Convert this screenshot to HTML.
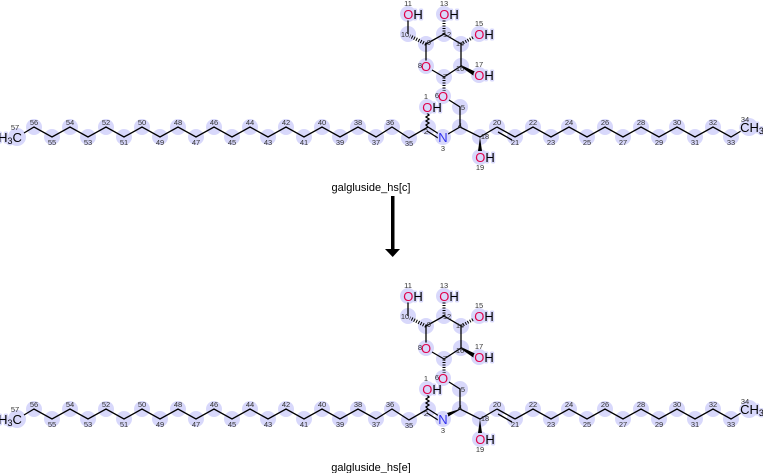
<!DOCTYPE html>
<html><head><meta charset="utf-8"><style>
html,body{margin:0;padding:0;background:#fff;width:763px;height:473px;overflow:hidden}
svg{display:block}
.c{fill:#d8d8fb}
.b{stroke:#000;stroke-width:1.3;fill:none}
.n{font:7.5px "Liberation Sans",sans-serif;fill:#333;text-anchor:middle}
.a{font:13px "Liberation Sans",sans-serif;text-anchor:middle;stroke:#d8d8fb;stroke-width:3;paint-order:stroke;stroke-linejoin:round}
.o{fill:#e0004a}
.t{font:11px "Liberation Sans",sans-serif;fill:#000;text-anchor:middle}
</style></head><body>
<svg width="763" height="473" viewBox="0 0 763 473" xmlns="http://www.w3.org/2000/svg">
<defs>
<g id="circ">
<circle class="c" cx="17" cy="137" r="9"/>
<circle class="c" cx="34" cy="127" r="8"/><circle class="c" cx="52" cy="137" r="8"/><circle class="c" cx="70" cy="127" r="8"/><circle class="c" cx="88" cy="137" r="8"/><circle class="c" cx="106" cy="127" r="8"/><circle class="c" cx="124" cy="137" r="8"/><circle class="c" cx="142" cy="127" r="8"/><circle class="c" cx="160" cy="137" r="8"/><circle class="c" cx="178" cy="127" r="8"/><circle class="c" cx="196" cy="137" r="8"/><circle class="c" cx="214" cy="127" r="8"/><circle class="c" cx="232" cy="137" r="8"/><circle class="c" cx="250" cy="127" r="8"/><circle class="c" cx="268" cy="137" r="8"/><circle class="c" cx="286" cy="127" r="8"/><circle class="c" cx="304" cy="137" r="8"/><circle class="c" cx="322" cy="127" r="8"/><circle class="c" cx="340" cy="137" r="8"/><circle class="c" cx="358" cy="127" r="8"/><circle class="c" cx="376" cy="137" r="8"/><circle class="c" cx="392" cy="127" r="8"/><circle class="c" cx="409" cy="138" r="8"/>
<circle class="c" cx="428" cy="127" r="8"/><circle class="c" cx="443" cy="137" r="8"/><circle class="c" cx="460" cy="127" r="8"/><circle class="c" cx="480" cy="137" r="8"/><circle class="c" cx="497" cy="127" r="8"/><circle class="c" cx="515" cy="137" r="8"/>
<circle class="c" cx="533" cy="127" r="8"/><circle class="c" cx="551" cy="137" r="8"/><circle class="c" cx="569" cy="127" r="8"/><circle class="c" cx="587" cy="137" r="8"/><circle class="c" cx="605" cy="127" r="8"/><circle class="c" cx="623" cy="137" r="8"/><circle class="c" cx="641" cy="127" r="8"/><circle class="c" cx="659" cy="137" r="8"/><circle class="c" cx="677" cy="127" r="8"/><circle class="c" cx="695" cy="137" r="8"/><circle class="c" cx="713" cy="127" r="8"/><circle class="c" cx="731" cy="137" r="8"/><circle class="c" cx="749" cy="127" r="9"/>
<circle class="c" cx="427" cy="107" r="8"/><circle class="c" cx="460" cy="107" r="8"/><circle class="c" cx="443" cy="96" r="8"/><circle class="c" cx="444" cy="77" r="8"/><circle class="c" cx="426" cy="66" r="8"/><circle class="c" cx="426" cy="44" r="8"/><circle class="c" cx="408" cy="34" r="8"/><circle class="c" cx="408" cy="14" r="8"/><circle class="c" cx="444" cy="34" r="8"/><circle class="c" cx="444" cy="14" r="8"/><circle class="c" cx="461" cy="44" r="8"/><circle class="c" cx="479" cy="34" r="8"/><circle class="c" cx="461" cy="66" r="8"/><circle class="c" cx="479" cy="75" r="8"/><circle class="c" cx="480" cy="157" r="8"/>
</g>
<g id="bonds">
<polyline class="b" points="24,133 34,127 52,137 70,127 88,137 106,127 124,137 142,127 160,137 178,127 196,137 214,127 232,137 250,127 268,137 286,127 304,137 322,127 340,137 358,127 376,137 392,127 409,138 428,127"/>
<line class="b" x1="428" y1="127" x2="439" y2="134"/><line class="b" x1="427" y1="131" x2="438" y2="138"/>
<polyline class="b" points="448,134 460,127 480,137 497,127"/>
<line class="b" x1="497" y1="127" x2="515" y2="137"/><line class="b" x1="498" y1="132" x2="512" y2="140"/>
<polyline class="b" points="515,137 533,127 551,137 569,127 587,137 605,127 623,137 641,127 659,137 677,127 695,137 713,127 731,137 741,131"/>
<path class="b" d="M428,127 l-2,-2 3,-2 -3,-2 3,-2 -3,-2 3,-2 -2,-2"/>
<polyline class="b" points="460,127 460,107 449,100"/>
<line x1="444" y1="91" x2="444" y2="77" stroke="#000" stroke-width="3" stroke-dasharray="1 1.5"/>
<polyline class="b" points="444,77 432,70"/><polyline class="b" points="426,61 426,44 444,34 461,44 461,66 444,77"/>
<line x1="426" y1="44" x2="410" y2="36" stroke="#000" stroke-width="3.5" stroke-dasharray="1 1.5"/>
<line class="b" x1="408" y1="34" x2="408" y2="20"/>
<line x1="444" y1="34" x2="444" y2="20" stroke="#000" stroke-width="3" stroke-dasharray="1 1.5"/>
<line x1="461" y1="44" x2="474" y2="37" stroke="#000" stroke-width="3" stroke-dasharray="1 1.5"/>
<polygon points="461,65 461,67 474,76 476,72" fill="#000"/>
<polygon points="480,137 478,151 482,151" fill="#000"/>
</g>
<g id="nums">
<text class="n" x="15" y="130">57</text><text class="n" x="34" y="125">56</text><text class="n" x="52" y="145">55</text><text class="n" x="70" y="125">54</text><text class="n" x="88" y="145">53</text><text class="n" x="106" y="125">52</text><text class="n" x="124" y="145">51</text><text class="n" x="142" y="125">50</text><text class="n" x="160" y="145">49</text><text class="n" x="178" y="125">48</text><text class="n" x="196" y="145">47</text><text class="n" x="214" y="125">46</text><text class="n" x="232" y="145">45</text><text class="n" x="250" y="125">44</text><text class="n" x="268" y="145">43</text><text class="n" x="286" y="125">42</text><text class="n" x="304" y="145">41</text><text class="n" x="322" y="125">40</text><text class="n" x="340" y="145">39</text><text class="n" x="358" y="125">38</text><text class="n" x="376" y="145">37</text><text class="n" x="390" y="125">36</text><text class="n" x="409" y="146">35</text>
<text class="n" x="426" y="134">2</text><text class="n" x="443" y="151">3</text><text class="n" x="460" y="128">4</text><text class="n" x="485" y="139">18</text><text class="n" x="497" y="125">20</text><text class="n" x="515" y="145">21</text>
<text class="n" x="533" y="125">22</text><text class="n" x="551" y="145">23</text><text class="n" x="569" y="125">24</text><text class="n" x="587" y="145">25</text><text class="n" x="605" y="125">26</text><text class="n" x="623" y="145">27</text><text class="n" x="641" y="125">28</text><text class="n" x="659" y="145">29</text><text class="n" x="677" y="125">30</text><text class="n" x="695" y="145">31</text><text class="n" x="713" y="125">32</text><text class="n" x="731" y="145">33</text><text class="n" x="745" y="122">34</text>
<text class="n" x="426" y="99">1</text><text class="n" x="463" y="110">5</text><text class="n" x="437" y="98">6</text><text class="n" x="445" y="79">7</text><text class="n" x="420" y="68">8</text><text class="n" x="429" y="45">9</text><text class="n" x="405" y="37">10</text><text class="n" x="408" y="6">11</text><text class="n" x="447" y="37">12</text><text class="n" x="444" y="6">13</text><text class="n" x="460" y="46">14</text><text class="n" x="479" y="26">15</text><text class="n" x="460" y="71">16</text><text class="n" x="479" y="67">17</text><text class="n" x="480" y="170">19</text>
</g>
</defs>
<use href="#circ"/><use href="#bonds"/>
<g>
<text class="a" x="10" y="142">H<tspan font-size="9" dy="2">3</tspan><tspan dy="-2">C</tspan></text>
<text class="a" x="752" y="132">CH<tspan font-size="9" dy="2">3</tspan></text>
<text class="a" x="443" y="142" fill="#3333ee">N</text>
<text class="a" x="443" y="101"><tspan class="o">O</tspan></text>
<text class="a" x="426" y="71"><tspan class="o">O</tspan></text>
<text class="a" x="432" y="112"><tspan class="o">O</tspan>H</text>
<text class="a" x="413" y="19"><tspan class="o">O</tspan>H</text>
<text class="a" x="449" y="19"><tspan class="o">O</tspan>H</text>
<text class="a" x="484" y="39"><tspan class="o">O</tspan>H</text>
<text class="a" x="484" y="80"><tspan class="o">O</tspan>H</text>
<text class="a" x="485" y="162"><tspan class="o">O</tspan>H</text>
</g>
<use href="#nums"/>
<text class="t" x="371" y="191">galgluside_hs[c]</text>
<rect x="391" y="196" width="3.5" height="54" fill="#000"/>
<polygon points="385,249 400,249 392.7,257" fill="#000"/>
<g transform="translate(0,282)">
<use href="#circ"/><use href="#bonds"/>
<polygon points="448,134 460,127 447,131" fill="#000"/>
<text class="a" x="10" y="142">H<tspan font-size="9" dy="2">3</tspan><tspan dy="-2">C</tspan></text>
<text class="a" x="752" y="132">CH<tspan font-size="9" dy="2">3</tspan></text>
<text class="a" x="443" y="142" fill="#3333ee">N</text>
<text class="a" x="443" y="101"><tspan class="o">O</tspan></text>
<text class="a" x="426" y="71"><tspan class="o">O</tspan></text>
<text class="a" x="432" y="112"><tspan class="o">O</tspan>H</text>
<text class="a" x="413" y="19"><tspan class="o">O</tspan>H</text>
<text class="a" x="449" y="19"><tspan class="o">O</tspan>H</text>
<text class="a" x="484" y="39"><tspan class="o">O</tspan>H</text>
<text class="a" x="484" y="80"><tspan class="o">O</tspan>H</text>
<text class="a" x="485" y="162"><tspan class="o">O</tspan>H</text>
<use href="#nums"/>
</g>
<text class="t" x="371" y="471">galgluside_hs[e]</text>
</svg>
</body></html>
